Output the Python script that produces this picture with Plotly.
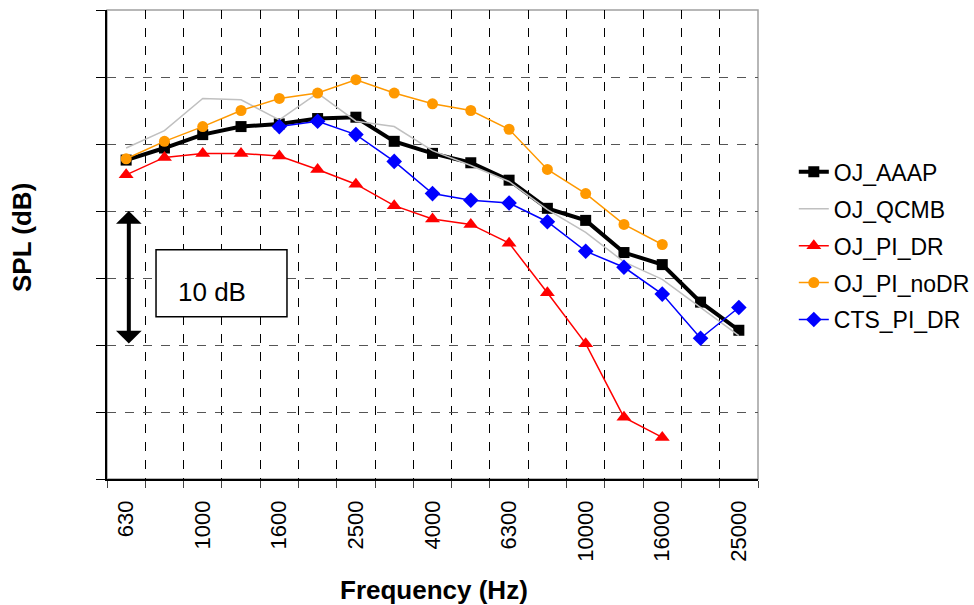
import plotly.graph_objects as go

freqs = ["630", "800", "1000", "1250", "1600", "2000", "2500", "3150", "4000",
         "5000", "6300", "8000", "10000", "12500", "16000", "20000", "25000"]
x_idx = list(range(len(freqs)))

oj_aaap = [23.8, 24.7, 25.7, 26.3, 26.5, 26.9, 27.0, 25.2, 24.3, 23.6, 22.3, 20.2,
           19.3, 16.9, 16.0, 13.2, 11.1]
oj_qcmb = [24.7, 26.0, 28.4, 28.3, 26.8, 28.8, 26.7, 26.3, 24.5, 23.4, 22.2, 20.1,
           18.4, 16.2, 14.9, 12.8, 10.7]
oj_pi_dr = [22.7, 24.0, 24.3, 24.3, 24.1, 23.1, 22.0, 20.4, 19.4, 19.0, 17.6, 13.9,
            10.1, 4.6, 3.1, None, None]
oj_pi_nodr = [23.9, 25.2, 26.3, 27.5, 28.4, 28.8, 29.8, 28.8, 28.0, 27.5, 26.1, 23.1,
              21.3, 19.0, 17.5, None, None]
cts_pi_dr = [None, None, None, None, 26.3, 26.7, 25.7, 23.7, 21.3, 20.8, 20.6, 19.2,
             17.0, 15.8, 13.8, 10.5, 12.8]

label_idx = x_idx[::2]
label_txt = freqs[::2]

FONT = "Arial, Liberation Sans, sans-serif"

fig = go.Figure()
fig.add_trace(go.Scatter(x=x_idx, y=oj_aaap, name="OJ_AAAP", mode="lines+markers",
                         line=dict(color="#000000", width=4),
                         marker=dict(symbol="square", size=11, color="#000000"),
                         legendgroup="a"))
fig.add_trace(go.Scatter(x=x_idx, y=oj_qcmb, name="OJ_QCMB", mode="lines",
                         line=dict(color="#c0c0c0", width=1.5), legendgroup="b"))
fig.add_trace(go.Scatter(x=x_idx, y=oj_pi_dr, name="OJ_PI_DR", mode="lines+markers",
                         line=dict(color="#ff0000", width=1.5),
                         marker=dict(symbol="triangle-up", size=13, color="#ff0000"),
                         legendgroup="c"))
fig.add_trace(go.Scatter(x=x_idx, y=oj_pi_nodr, name="OJ_PI_noDR", mode="lines+markers",
                         line=dict(color="#ff9900", width=1.5),
                         marker=dict(symbol="circle", size=11, color="#ff9900"),
                         legendgroup="d"))
fig.add_trace(go.Scatter(x=x_idx, y=cts_pi_dr, name="CTS_PI_DR", mode="lines+markers",
                         line=dict(color="#0000ff", width=1.5),
                         marker=dict(symbol="diamond", size=12, color="#0000ff"),
                         legendgroup="e"))

fig.update_layout(
    width=974, height=605,
    margin=dict(l=107, r=216, t=10, b=126, autoexpand=False),
    paper_bgcolor="white", plot_bgcolor="white",
    font=dict(family=FONT, color="black", size=22),
    showlegend=True,
    legend=dict(x=1.055, xanchor="left", y=0.497, yanchor="middle",
                font=dict(size=23, family=FONT), tracegroupgap=4,
                bgcolor="rgba(0,0,0,0)"),
    xaxis=dict(range=[-0.5, len(freqs) - 0.5], tickmode="array",
               tickvals=label_idx, ticktext=label_txt, tickangle=-90,
               ticks="", showgrid=False, zeroline=False, ticklabelstandoff=11,
               showline=True, linecolor="black", linewidth=1.5,
               tickfont=dict(size=22, family=FONT),
               minor=dict(tick0=0.5, dtick=1, ticks="outside", ticklen=7,
                          tickcolor="#444", showgrid=True, gridcolor="black",
                          griddash="dash", gridwidth=1)),
    yaxis=dict(range=[0, 35], dtick=5, tick0=0, showticklabels=False,
               ticks="outside", ticklen=9, tickcolor="black",
               showgrid=True, gridcolor="#555", griddash="dash", gridwidth=1,
               zeroline=False, showline=True, linecolor="black", linewidth=1.5),
)

# plot area border (gray top/right)
fig.add_shape(type="rect", xref="paper", yref="paper", x0=0, x1=1, y0=0, y1=1,
              line=dict(color="#a0a0a0", width=1.5), layer="below")

# 10 dB box
fig.add_shape(type="rect", xref="x", yref="y", x0=0.78, x1=4.2, y0=12.1, y1=17.1,
              line=dict(color="black", width=1.5), fillcolor="white", layer="above")
fig.add_annotation(x=2.24, y=13.95, xref="x", yref="y", text="10 dB", showarrow=False,
                   xanchor="center", yanchor="middle",
                   font=dict(size=26, family=FONT, color="black"))

# double-headed 10 dB arrow
fig.add_annotation(x=0.07, y=20, xref="x", yref="y", ax=0.07, ay=10, axref="x", ayref="y",
                   text="", showarrow=True, arrowside="end+start",
                   arrowhead=1, startarrowhead=1, arrowsize=1.07, startarrowsize=1.07,
                   arrowwidth=4, arrowcolor="black")

# axis titles (positions given in pixels, converted to paper coords)
pl, pr, pt, pb = 107, 974 - 216, 10, 605 - 126
def px_to_paper(px, py):
    return (px - pl) / (pr - pl), (pb - py) / (pb - pt)

tx, ty = px_to_paper(22, 238)
fig.add_annotation(x=tx, y=ty, xref="paper", yref="paper", text="<b>SPL (dB)</b>",
                   showarrow=False, textangle=-90, xanchor="center", yanchor="middle",
                   font=dict(size=26, family=FONT))
tx, ty = px_to_paper(434, 590)
fig.add_annotation(x=tx, y=ty, xref="paper", yref="paper", text="<b>Frequency (Hz)</b>",
                   showarrow=False, xanchor="center", yanchor="middle",
                   font=dict(size=26, family=FONT))

fig.write_html("out.html", config={"displayModeBar": False},
               post_script="document.body.style.margin='0px';")
